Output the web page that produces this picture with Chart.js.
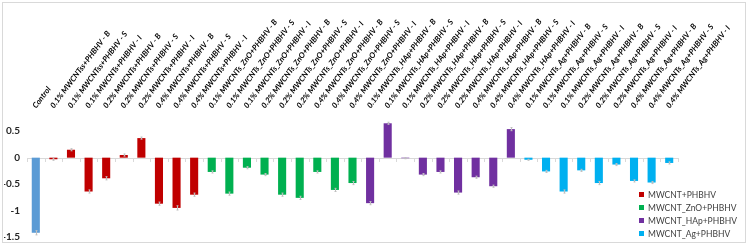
<!DOCTYPE html>
<html><head><meta charset="utf-8">
<script src="https://cdn.jsdelivr.net/npm/chart.js@4/dist/chart.umd.min.js"></script>
<style>
html,body{margin:0;padding:0;width:748px;height:247px;overflow:hidden;background:#fff;}
#frame{position:absolute;left:2px;top:2px;width:742px;height:239px;border:1px solid #d9d9d9;}
#wrap{position:absolute;left:0;top:0;width:748px;height:247px;}
#legend{position:absolute;left:639px;top:189px;font:8.5px Lato, sans-serif;color:#404040;}
.item{height:13px;line-height:13px;white-space:nowrap;}
.sw{display:inline-block;width:5px;height:5px;margin-right:4px;vertical-align:middle;position:relative;top:-1px;}
</style></head>
<body>
<div id="frame"></div>
<div id="wrap"><canvas id="c" width="748" height="247"></canvas></div>
<div id="legend"></div>
<script>
// ---- categories ----
const controlLabel = ["Control"];
const mwcntLabels = ["0.1% MWCNTss+PHBHV - B","0.1% MWCNTss+PHBHV - S","0.1% MWCNTs+PHBHV - I",
  "0.2% MWCNTs+PHBHV - B","0.2% MWCNTs+PHBHV - S","0.2% MWCNTs+PHBHV - I",
  "0.4% MWCNTs+PHBHV - B","0.4% MWCNTs+PHBHV - S","0.4% MWCNTs+PHBHV - I"];
const znoLabels = ["0.1% MWCNTs_ZnO+PHBHV - B","0.1% MWCNTs_ZnO+PHBHV - S","0.1% MWCNTs_ZnO+PHBHV - I",
  "0.2% MWCNTs_ZnO+PHBHV - B","0.2% MWCNTs_ZnO+PHBHV - S","0.2% MWCNTs_ZnO+PHBHV - I",
  "0.4% MWCNTs_ZnO+PHBHV - B","0.4% MWCNTs_ZnO+PHBHV - S","0.4% MWCNTs_ZnO+PHBHV - I"];
const hapLabels = ["0.1% MWCNTs_HAp+PHBHV - B","0.1% MWCNTs_HAp+PHBHV - S","0.1% MWCNTs_HAp+PHBHV - I",
  "0.2% MWCNTs_HAp+PHBHV - B","0.2% MWCNTs_HAp+PHBHV - S","0.2% MWCNTs_HAp+PHBHV - I",
  "0.4% MWCNTs_HAp+PHBHV - B","0.4% MWCNTs_HAp+PHBHV - S","0.4% MWCNTs_HAp+PHBHV - I"];
const agLabels = ["0.1% MWCNTs_Ag+PHBHV - B","0.1% MWCNTs_Ag+PHBHV - S","0.1% MWCNTs_Ag+PHBHV - I",
  "0.2% MWCNTs_Ag+PHBHV - B","0.2% MWCNTs_Ag+PHBHV - S","0.2% MWCNTs_Ag+PHBHV - I",
  "0.4% MWCNTs_Ag+PHBHV - B","0.4% MWCNTs_Ag+PHBHV - S","0.4% MWCNTs_Ag+PHBHV - I"];

// ---- series values ----
const controlValues = [-1.42];
const mwcntValues = [-0.03, 0.15, -0.64, -0.39, 0.05, 0.37, -0.87, -0.95, -0.70];
const znoValues   = [-0.27, -0.68, -0.19, -0.32, -0.70, -0.76, -0.27, -0.61, -0.48];
const hapValues   = [-0.86, 0.65, -0.01, -0.32, -0.27, -0.66, -0.37, -0.54, 0.54];
const agValues    = [-0.04, -0.26, -0.64, -0.24, -0.48, -0.13, -0.44, -0.47, -0.10];

// ---- error values ----
const controlErrors = [0.04];
const mwcntErrors = [0.02, 0.02, 0.03, 0.03, 0.02, 0.02, 0.03, 0.04, 0.03];
const znoErrors   = [0.02, 0.03, 0.02, 0.02, 0.03, 0.03, 0.02, 0.03, 0.03];
const hapErrors   = [0.03, 0.02, 0.01, 0.02, 0.02, 0.03, 0.02, 0.02, 0.03];
const agErrors    = [0.01, 0.02, 0.03, 0.02, 0.03, 0.02, 0.02, 0.02, 0.02];

// ---- tick labels ----
const yTicks = [-1.5, -1, -0.5, 0, 0.5];

const seriesNames = ["Control","MWCNT+PHBHV","MWCNT_ZnO+PHBHV","MWCNT_HAp+PHBHV","MWCNT_Ag+PHBHV"];
const seriesColors = ["#5B9BD5","#C00000","#00B050","#7030A0","#00B0F0"];

const groups = [
  [controlLabel, controlValues, controlErrors],
  [mwcntLabels, mwcntValues, mwcntErrors],
  [znoLabels, znoValues, znoErrors],
  [hapLabels, hapValues, hapErrors],
  [agLabels, agValues, agErrors]
];
const categories = groups.flatMap(g => g[0]);
const total = categories.length;
let offset = 0;
const datasets = groups.map((g, gi) => {
  const data = new Array(total).fill(null);
  const errs = new Array(total).fill(null);
  g[1].forEach((v, i) => { data[offset + i] = v; errs[offset + i] = g[2][i]; });
  offset += g[1].length;
  return { label: seriesNames[gi], data, errors: errs, backgroundColor: seriesColors[gi], borderWidth: 0 };
});

const extras = {
  id: 'extras',
  beforeDatasetsDraw(chart) {
    const ctx = chart.ctx, x = chart.scales.x, y = chart.scales.y;
    const y0 = y.getPixelForValue(0);
    ctx.save();
    ctx.strokeStyle = '#d9d9d9';
    ctx.lineWidth = 1;
    ctx.beginPath();
    ctx.moveTo(chart.chartArea.left, Math.round(y0) + 0.5);
    ctx.lineTo(chart.chartArea.right, Math.round(y0) + 0.5);
    const step = x.getPixelForValue(1) - x.getPixelForValue(0);
    for (let i = 0; i <= total; i++) {
      const px = Math.round(x.getPixelForValue(i) - step / 2) + 0.5;
      ctx.moveTo(px, Math.round(y0));
      ctx.lineTo(px, Math.round(y0) + 4);
    }
    ctx.stroke();
    ctx.restore();
  },
  afterDatasetsDraw(chart) {
    const ctx = chart.ctx, x = chart.scales.x, y = chart.scales.y;
    ctx.save();
    ctx.strokeStyle = '#bfbfbf';
    ctx.lineWidth = 1;
    chart.data.datasets.forEach(ds => {
      ds.data.forEach((v, i) => {
        if (v === null) return;
        const e = ds.errors[i];
        const px = Math.round(x.getPixelForValue(i)) + 0.5;
        const a = y.getPixelForValue(v - e), b = y.getPixelForValue(v + e);
        ctx.beginPath();
        ctx.moveTo(px, a); ctx.lineTo(px, b);
        ctx.moveTo(px - 1, a); ctx.lineTo(px + 1, a);
        ctx.moveTo(px - 1, b); ctx.lineTo(px + 1, b);
        ctx.stroke();
      });
    });
    ctx.restore();
  }
};

new Chart(document.getElementById('c'), {
  type: 'bar',
  data: { labels: categories, datasets },
  plugins: [extras],
  options: {
    responsive: false, animation: false, devicePixelRatio: 1,
    layout: { padding: { left: 4, right: 70, top: 17, bottom: 10 } },
    datasets: { bar: { categoryPercentage: 1, barPercentage: 0.46 } },
    plugins: { legend: { display: false }, tooltip: { enabled: false } },
    scales: {
      x: {
        position: 'top', stacked: true,
        grid: { display: false }, border: { display: false },
        ticks: { autoSkip: false, maxRotation: 53, minRotation: 53, padding: 0, labelOffset: 6,
          color: '#000', font: { family: 'Lato', size: 7.8, weight: 'bold', style: 'italic' } },
        afterFit(s) { s.paddingLeft = 0; s.paddingRight = 0; s.height = 101; }
      },
      y: {
        stacked: true, min: -1.5, max: 0.75,
        grid: { display: false, drawTicks: false }, border: { display: false },
        afterBuildTicks(s) { s.ticks = yTicks.map(v => ({ value: v })); },
        ticks: { padding: 7, color: '#262626', font: { family: 'Lato', size: 10, weight: 'bold' },
          callback: v => String(v) },
        afterFit(s) { s.paddingTop = 0; s.paddingBottom = 0; s.width = 23; }
      }
    }
  }
});

const legend = document.getElementById('legend');
seriesNames.slice(1).forEach((n, i) => {
  const d = document.createElement('div'); d.className = 'item';
  d.innerHTML = '<span class="sw" style="background:' + seriesColors[i + 1] + '"></span>' + n;
  legend.appendChild(d);
});
</script>
</body></html>
